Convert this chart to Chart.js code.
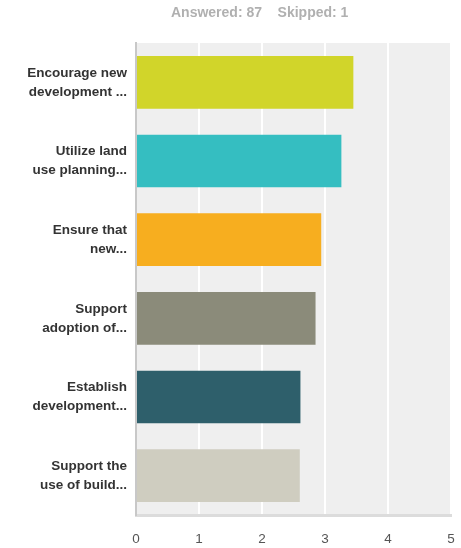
<!DOCTYPE html>
<html>
<head>
<meta charset="utf-8">
<script src="https://cdn.jsdelivr.net/npm/chart.js@4"></script>
<style>
  html, body { margin: 0; padding: 0; background: #fff; }
  #wrap { width: 461px; height: 548px; position: relative; }
</style>
</head>
<body>
<div id="wrap"><canvas id="grafico" width="461" height="548"></canvas></div>
<script>
var categorias = [
  ["Encourage new", "development ..."],
  ["Utilize land", "use planning..."],
  ["Ensure that", "new..."],
  ["Support", "adoption of..."],
  ["Establish", "development..."],
  ["Support the", "use of build..."]
];
var medias = [3.45, 3.26, 2.94, 2.85, 2.61, 2.60];
var cores = ["#d1d52a", "#35bec1", "#f7ae1f", "#8b8b7a", "#2e5f6b", "#cfcdc0"];
var ticksX = [0, 1, 2, 3, 4, 5];
var textoTopo = "Answered: 87    Skipped: 1";

// fundo cinza da area do grafico + texto do topo
const fundoPlugin = {
  id: "fundo",
  beforeDraw(chart) {
    const { ctx, chartArea } = chart;
    ctx.save();
    ctx.fillStyle = "#efefef";
    ctx.fillRect(chartArea.left, chartArea.top, chartArea.right - chartArea.left, chartArea.bottom - chartArea.top);
    ctx.restore();
  },
  afterDraw(chart) {
    const ctx = chart.ctx;
    ctx.save();
    ctx.font = "bold 14px 'Liberation Sans', Arial, sans-serif";
    ctx.fillStyle = "#b0b0b0";
    ctx.textBaseline = "middle";
    ctx.textAlign = "left";
    ctx.fillText(textoTopo, 171, 13);
    ctx.restore();
  }
};

const chartMedias = new Chart(document.getElementById("grafico"), {
  type: "bar",
  data: {
    labels: categorias,
    datasets: [
      {
        data: medias,
        backgroundColor: cores,
        borderWidth: 0,
        barPercentage: 0.67,
        categoryPercentage: 1
      }
    ]
  },
  options: {
    indexAxis: "y",
    responsive: false,
    animation: false,
    layout: { padding: { top: 43, right: 10, left: 0, bottom: 0 } },
    plugins: {
      legend: { display: false },
      tooltip: { enabled: false }
    },
    scales: {
      x: {
        min: 0,
        max: 5,
        afterBuildTicks: (scale) => { scale.ticks = ticksX.map((v) => ({ value: v })); },
        afterFit: (scale) => {
          scale.height = 33;
          scale.paddingLeft = 0;
          scale.paddingRight = 0;
        },
        grid: { color: "#ffffff", lineWidth: 2, drawTicks: false },
        border: { color: "#dcdcdc", width: 3 },
        ticks: {
          color: "#555",
          padding: 16,
          font: { family: "'Liberation Sans', Arial, sans-serif", size: 13.5 }
        }
      },
      y: {
        afterFit: (scale) => {
          scale.width = 136;
          scale.paddingTop = 0;
          scale.paddingBottom = 0;
        },
        grid: { display: false, drawTicks: false },
        border: { color: "#c8c8c8", width: 2 },
        ticks: {
          color: "#333",
          padding: 9,
          font: { family: "'Liberation Sans', Arial, sans-serif", size: 13.5, weight: "bold", lineHeight: 1.4 }
        }
      }
    }
  },
  plugins: [fundoPlugin]
});
</script>
</body>
</html>
